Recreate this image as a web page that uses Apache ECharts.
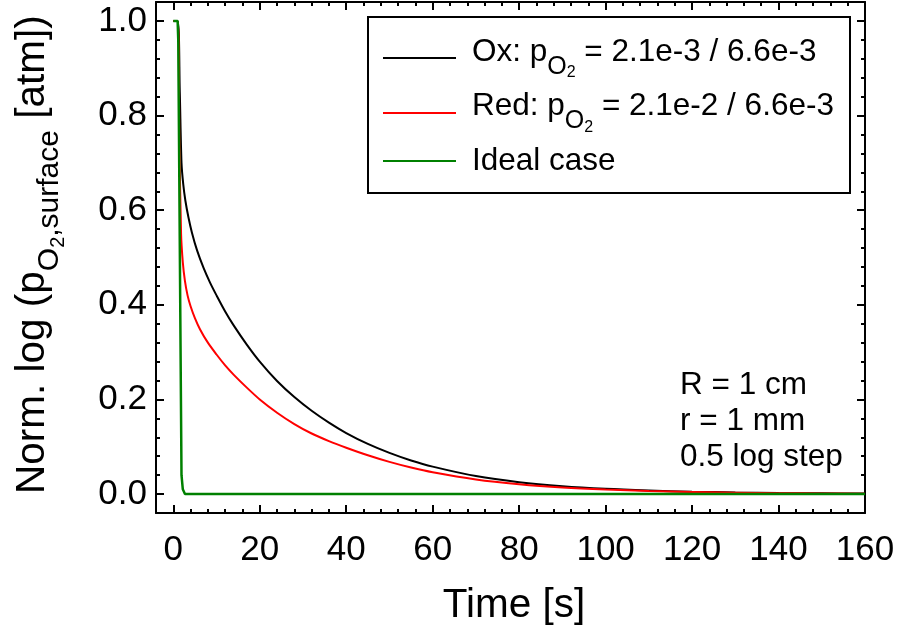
<!DOCTYPE html>
<html>
<head>
<meta charset="utf-8">
<script src="https://cdn.jsdelivr.net/npm/echarts@6/dist/echarts.min.js"></script>
<style>
  html, body { margin: 0; padding: 0; background: #fff; }
  #chart { width: 899px; height: 641px; }
</style>
</head>
<body>
<div id="chart"></div>
<script>
const FONT = '"Liberation Sans", Arial, Helvetica, sans-serif';

// Oxidation step: time [s] and normalised log p(O2) at the surface
const oxTime  = [0, 1.0, 1.5, 1.9, 2.3, 2.8, 3.5, 4.3, 5.5, 7, 8.5, 10, 12, 14, 17, 20, 24, 28, 32, 36, 40, 45, 50, 55, 60, 70, 80, 90, 100, 110, 120, 130, 140, 150, 160];
const oxValue = [1, 1, 0.85, 0.70, 0.655, 0.62, 0.585, 0.553, 0.515, 0.478, 0.447, 0.420, 0.386, 0.356, 0.316, 0.280, 0.239, 0.205, 0.176, 0.151, 0.129, 0.106, 0.087, 0.071, 0.058, 0.038, 0.025, 0.0165, 0.011, 0.0075, 0.005, 0.0034, 0.0023, 0.0015, 0.001];

// Reduction step
const redTime  = [0, 1.0, 1.4, 1.8, 2.2, 2.7, 3.3, 4, 5, 6.2, 8, 10, 12, 14, 17, 20, 24, 28, 32, 36, 40, 45, 50, 55, 60, 70, 80, 90, 100, 110, 120, 130, 140, 150, 160];
const redValue = [1, 1, 0.75, 0.55, 0.49, 0.45, 0.42, 0.397, 0.372, 0.348, 0.32, 0.295, 0.272, 0.252, 0.225, 0.2, 0.172, 0.148, 0.128, 0.112, 0.098, 0.082, 0.068, 0.056, 0.046, 0.031, 0.021, 0.014, 0.0095, 0.0065, 0.0045, 0.003, 0.002, 0.0013, 0.0009];

// Ideal (instantaneous) switch
const idealTime  = [0, 1.0, 1.15, 1.9, 2.2, 2.7, 160];
const idealValue = [1, 1, 0.96, 0.04, 0.01, 0, 0];

// Axis ticks
const xMajorTicks = [0, 20, 40, 60, 80, 100, 120, 140, 160];
const xMinorTicks = [4, 8, 12, 16, 24, 28, 32, 36, 44, 48, 52, 56, 64, 68, 72, 76, 84, 88, 92, 96,
                     104, 108, 112, 116, 124, 128, 132, 136, 144, 148, 152, 156];
const yMajorTicks = [0, 0.2, 0.4, 0.6, 0.8, 1.0];
const yMinorTicks = [0.04, 0.08, 0.12, 0.16, 0.24, 0.28, 0.32, 0.36, 0.44, 0.48, 0.52, 0.56,
                     0.64, 0.68, 0.72, 0.76, 0.84, 0.88, 0.92, 0.96];

const X_RANGE = [-4, 160];
const Y_RANGE = [-0.04, 1.04];

const seriesNames = ['Ox', 'Red', 'Ideal case'];
const seriesColors = ['#000000', '#ff0000', '#008000'];

const pairs = (xs, ys) => xs.map((x, i) => [x, ys[i]]);

// ---- text helpers (subscript runs laid out with measured widths) ----
const measureCtx = document.createElement('canvas').getContext('2d');
function textWidth(text, size) {
  measureCtx.font = size + 'px ' + FONT;
  return measureCtx.measureText(text).width;
}
function textRun(parts, x0, y0, vertical) {
  let adv = 0;
  const els = [];
  parts.forEach(p => {
    const font = p.size + 'px ' + FONT;
    els.push({
      type: 'text',
      silent: true,
      z: 100,
      x: vertical ? x0 + p.shift : x0 + adv,
      y: vertical ? y0 - adv : y0 + p.shift,
      rotation: vertical ? Math.PI / 2 : 0,
      style: {
        text: p.text, font: font, fill: '#000',
        textAlign: 'left', textVerticalAlign: 'middle',
        align: 'left', verticalAlign: 'middle'
      }
    });
    adv += textWidth(p.text, p.size);
  });
  return els;
}

const MAIN = 31.5, SUB = 25, SUB2 = 16;
function legendLabel(prefix, rest) {
  return [
    { text: prefix, size: MAIN, shift: 0 },
    { text: 'O', size: SUB, shift: 15 },
    { text: '2', size: SUB2, shift: 21 },
    { text: rest, size: MAIN, shift: 0 }
  ];
}

const graphics = [];
// legend frame
graphics.push({
  type: 'rect', z: 90, silent: true,
  shape: { x: 368, y: 17, width: 482, height: 176 },
  style: { fill: '#fff', stroke: '#000', lineWidth: 2 }
});
const legendRows = [
  { y: 52, lineY: 58, parts: legendLabel('Ox: p', ' = 2.1e-3 / 6.6e-3') },
  { y: 106.5, lineY: 113, parts: legendLabel('Red: p', ' = 2.1e-2 / 6.6e-3') },
  { y: 161, lineY: 161, parts: [{ text: 'Ideal case', size: MAIN, shift: 0 }] }
];
legendRows.forEach((row, i) => {
  graphics.push({
    type: 'line', z: 95, silent: true,
    shape: { x1: 383, y1: row.lineY, x2: 456, y2: row.lineY },
    style: { stroke: seriesColors[i], lineWidth: 2 }
  });
  graphics.push(...textRun(row.parts, 472, row.y, false));
});

// parameter note
['R = 1 cm', 'r = 1 mm', '0.5 log step'].forEach((t, i) => {
  graphics.push(...textRun([{ text: t, size: MAIN, shift: 0 }], 680, 385 + i * 36, false));
});

// axis titles
const TITLE = 40.5, TSUB = 30, TSUB2 = 20;
const xTitle = 'Time [s]';
graphics.push(...textRun([{ text: xTitle, size: TITLE, shift: 0 }],
  514 - textWidth(xTitle, TITLE) / 2, 606, false));
const yTitleParts = [
  { text: 'Norm. log (p', size: TITLE, shift: 0 },
  { text: 'O', size: TSUB, shift: 17 },
  { text: '2', size: TSUB2, shift: 25 },
  { text: ',surface', size: TSUB, shift: 17 },
  { text: ' [atm])', size: TITLE, shift: 0 }
];
graphics.push(...textRun(yTitleParts, 33, 494, true));

// ---- axes ----
const lineBlack = { color: '#000', width: 2 };
function xAxisDef(position, ticks, len, withLine, withLabels) {
  return {
    type: 'value', position: position, min: X_RANGE[0], max: X_RANGE[1],
    axisLine: { show: withLine, onZero: false, lineStyle: lineBlack },
    axisTick: { show: true, inside: true, length: len, customValues: ticks, lineStyle: { color: '#000', width: 2 } },
    axisLabel: withLabels
      ? { show: true, customValues: ticks, margin: 20, fontSize: 35, fontFamily: FONT, color: '#000',
          formatter: v => String(Math.round(v)) }
      : { show: false },
    splitLine: { show: false }
  };
}
function yAxisDef(position, ticks, len, withLine, withLabels) {
  return {
    type: 'value', position: position, min: Y_RANGE[0], max: Y_RANGE[1],
    axisLine: { show: withLine, onZero: false, lineStyle: lineBlack },
    axisTick: { show: true, inside: true, length: len, customValues: ticks, lineStyle: { color: '#000', width: 2 } },
    axisLabel: withLabels
      ? { show: true, customValues: ticks, margin: 9, fontSize: 35, fontFamily: FONT, color: '#000',
          formatter: v => v.toFixed(1) }
      : { show: false },
    splitLine: { show: false }
  };
}

const chart = echarts.init(document.getElementById('chart'), null, { renderer: 'canvas' });
chart.setOption({
  animation: false,
  backgroundColor: '#fff',
  grid: { left: 156, right: 34, top: 2, bottom: 128, containLabel: false },
  xAxis: [
    xAxisDef('bottom', xMajorTicks, 8, true, true),
    xAxisDef('bottom', xMinorTicks, 4, false, false),
    xAxisDef('top', xMajorTicks, 8, true, false),
    xAxisDef('top', xMinorTicks, 4, false, false)
  ],
  yAxis: [
    yAxisDef('left', yMajorTicks, 8, true, true),
    yAxisDef('left', yMinorTicks, 4, false, false),
    yAxisDef('right', yMajorTicks, 8, true, false),
    yAxisDef('right', yMinorTicks, 4, false, false)
  ],
  series: [
    { name: seriesNames[0], type: 'line', data: pairs(oxTime, oxValue), showSymbol: false, symbol: 'none',
      smooth: 0.3, lineStyle: { color: seriesColors[0], width: 2 }, z: 3 },
    { name: seriesNames[1], type: 'line', data: pairs(redTime, redValue), showSymbol: false, symbol: 'none',
      smooth: 0.3, lineStyle: { color: seriesColors[1], width: 2 }, z: 4 },
    { name: seriesNames[2], type: 'line', data: pairs(idealTime, idealValue), showSymbol: false, symbol: 'none',
      lineStyle: { color: seriesColors[2], width: 2.5 }, z: 5 }
  ],
  graphic: graphics
});
</script>
</body>
</html>
